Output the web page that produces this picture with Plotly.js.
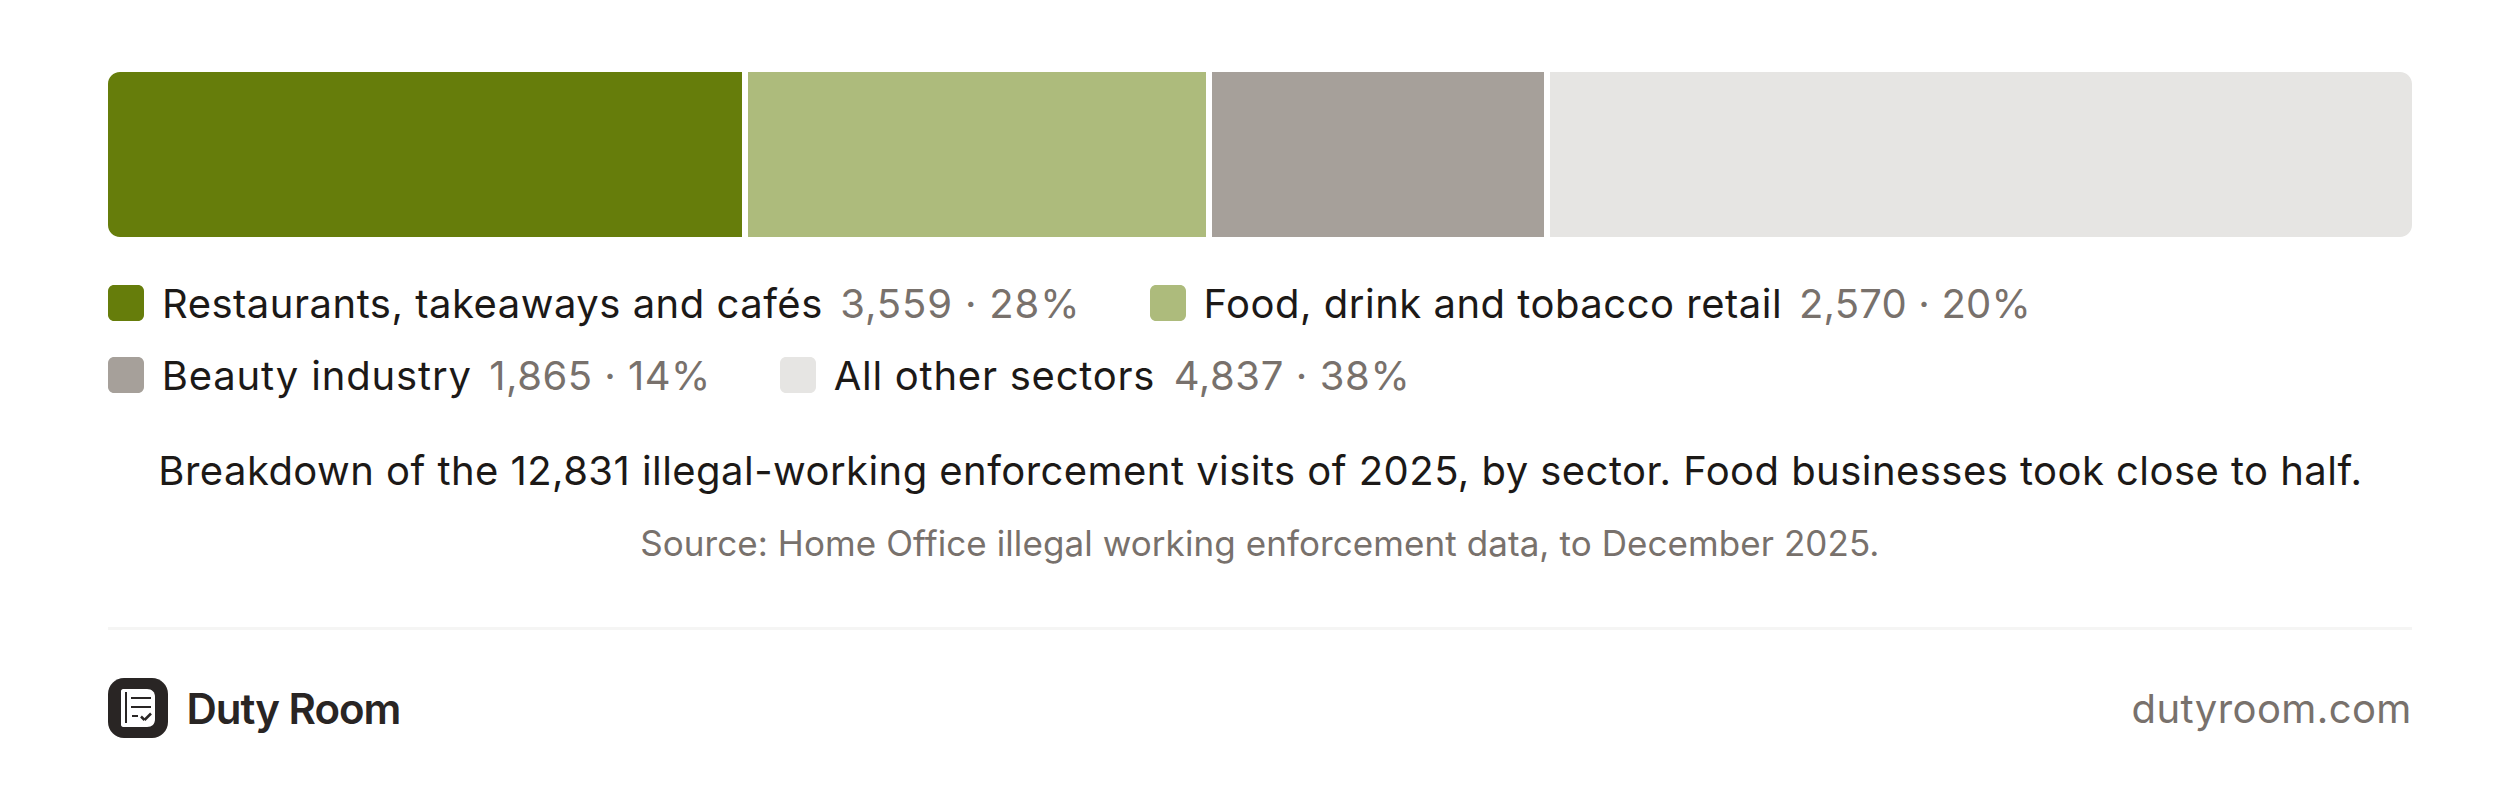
<!DOCTYPE html>
<html><head><meta charset="utf-8">
<script src="https://cdn.plot.ly/plotly-3.0.1.min.js"></script>
<style>html,body{margin:0;padding:0;background:#fff}#c{width:2520px;height:798px}</style></head>
<body><div id="c"></div>
<script>
const categories = ["Restaurants, takeaways and cafés","Food, drink and tobacco retail","Beauty industry","All other sectors"];
const visits = [3559,2570,1865,4837];
const shares = [28,20,14,38];
const colours = ["#667d0b","#adbb7c","#a6a09a","#e6e5e3"];
const caption = "Breakdown of the 12,831 illegal-working enforcement visits of 2025, by sector. Food businesses took close to half.";
const source = "Source: Home Office illegal working enforcement data, to December 2025.";
const brand = "Duty Room";
const site = "dutyroom.com";

const W=2304,H=165,L=108,T=72,GAP=6;
const total=visits.reduce((a,b)=>a+b,0);
const gapUnits=GAP/(W-3*GAP)*total;
const X=x=>(x-L)/W, Y=y=>1-(y-T)/H;
const FONT='Inter', INK='#1c1917', MUTED='#78716c';

let run=0;
const traces=visits.map((v,i)=>{const base=run;run+=v+gapUnits;
  return {type:'bar',orientation:'h',y:[0],x:[v],base:[base],width:[1],name:categories[i],
    marker:{color:colours[i],line:{width:0}},hoverinfo:'skip',showlegend:false};});

function rr(x0,y0,x1,y1,r){const k=0.45*r;
  const p=(x,y)=>X(x).toFixed(6)+' '+Y(y).toFixed(6);
  return 'M '+p(x0+r,y0)+' L '+p(x1-r,y0)+' C '+p(x1-k,y0)+' '+p(x1,y0+k)+' '+p(x1,y0+r)+
   ' L '+p(x1,y1-r)+' C '+p(x1,y1-k)+' '+p(x1-k,y1)+' '+p(x1-r,y1)+
   ' L '+p(x0+r,y1)+' C '+p(x0+k,y1)+' '+p(x0,y1-k)+' '+p(x0,y1-r)+
   ' L '+p(x0,y0+r)+' C '+p(x0,y0+k)+' '+p(x0+k,y0)+' '+p(x0+r,y0)+' Z';}
const pth=(d,fill)=>({type:'path',xref:'paper',yref:'paper',path:d,fillcolor:fill,line:{width:0},layer:'above'});
const P=(x,y)=>X(x).toFixed(6)+' '+Y(y).toFixed(6);
function corner(cx,cy,dx,dy,r){ // white mask for a bar corner
  const k=0.45*r;
  return pth('M '+P(cx,cy)+' L '+P(cx+dx*r,cy)+' C '+P(cx+dx*k,cy)+' '+P(cx,cy+dy*k)+' '+P(cx,cy+dy*r)+' Z','#ffffff');}
const seg=(x0,y0,x1,y1,c,w)=>({type:'line',xref:'paper',yref:'paper',x0:X(x0),y0:Y(y0),x1:X(x1),y1:Y(y1),line:{color:c,width:w},layer:'above'});

const R=12;
const shapes=[corner(108,72,1,1,R),corner(2412,72,-1,1,R),corner(108,237,1,-1,R),corner(2412,237,-1,-1,R)];
const legendPos=[
 {sw:108,y:303,tx:161,vx:839,tls:.5,vls:.85},{sw:1150,y:303,tx:1202,vx:1798,tls:.5,vls:.2},
 {sw:108,y:375,tx:161,vx:488,tls:.85,vls:.48},{sw:780,y:375,tx:833,vx:1173,tls:.75,vls:.6}];
const ann=[];
let css='';
// the width Plotly measures ignores the CSS letter-spacing, so offset the anchor by half the added width
const txt=(text,x,y,size,color,xanchor,ls,font,weight)=>{
  const dx=(xanchor==='left'?1:xanchor==='right'?-1:0)*text.length*ls/2;
  css+='.annotation[data-index="'+ann.length+'"] .annotation-text{letter-spacing:'+ls+'px}\n';
  ann.push({text,x:X(x+dx),y:Y(y),xref:'paper',yref:'paper',xanchor,yanchor:'middle',showarrow:false,borderpad:0,
  font:{family:font||FONT,size,color,weight:weight||400}});};
legendPos.forEach((p,i)=>{
  shapes.push(pth(rr(p.sw,p.y-18,p.sw+36,p.y+18,6),colours[i]));
  txt(categories[i],p.tx,p.y,40,INK,'left',p.tls);
  txt(visits[i].toLocaleString('en-GB')+' · '+shares[i]+'%',p.vx,p.y,40,MUTED,'left',p.vls);
});
txt(caption,1260,471,40,INK,'center',.45);
txt(source,1260,543,35,MUTED,'center',.08);
txt(brand,185,708,42,'#292524','left',-1,'Inter',600);
txt(site,2412,708,40,MUTED,'right',.4);
const st=document.createElement('style');st.textContent=css;document.head.appendChild(st);
shapes.push({type:'rect',xref:'paper',yref:'paper',x0:X(108),x1:X(2412),y0:Y(627),y1:Y(630),fillcolor:'#f5f5f4',line:{width:0},layer:'above'});
// logo
shapes.push(pth(rr(108,678,168,738,16),'#292524'));
shapes.push(pth('M '+P(123,689)+' L '+P(147,689)+' C '+P(152,689)+' '+P(155,692)+' '+P(155,697)+' L '+P(155,719)+' C '+P(155,724)+' '+P(152,727)+' '+P(147,727)+' L '+P(123,727)+' C '+P(122,727)+' '+P(121,726)+' '+P(121,725)+' L '+P(121,691)+' C '+P(121,690)+' '+P(122,689)+' '+P(123,689)+' Z','#ffffff'));
shapes.push(seg(126,692,126,723,'#292524',2));
shapes.push(seg(131,698,151,698,'#292524',2));
shapes.push(seg(131,707,151,707,'#292524',2));
shapes.push(seg(132,716,138,716,'#292524',2));
shapes.push(seg(141,716.5,144.5,720,'#292524',2.5));
shapes.push(seg(144.5,720,151,713.5,'#292524',2.5));

Plotly.newPlot('c',traces,{
  width:2520,height:798,margin:{l:L,r:2520-L-W,t:T,b:798-T-H,pad:0},
  paper_bgcolor:'#fff',plot_bgcolor:'#fff',barmode:'overlay',bargap:0,
  xaxis:{range:[0,total+3*gapUnits],visible:false,fixedrange:true},
  yaxis:{range:[-0.5,0.5],visible:false,fixedrange:true},
  shapes,annotations:ann,showlegend:false
},{displayModeBar:false,staticPlot:true});
</script></body></html>
